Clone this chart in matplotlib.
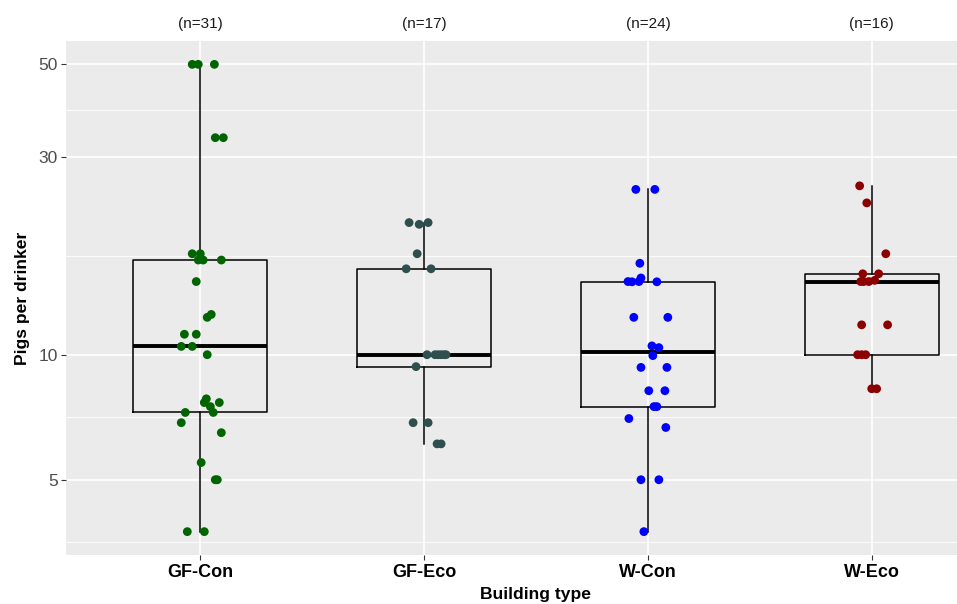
import numpy as np
import matplotlib
matplotlib.use("Agg")
import matplotlib.pyplot as plt
from matplotlib import cbook
import matplotlib.transforms as mtransforms
from matplotlib.ticker import FixedLocator, NullFormatter

plt.rcParams['font.family'] = ['Liberation Sans', 'DejaVu Sans']

categories = ["GF-Con", "GF-Eco", "W-Con", "W-Eco"]
point_colors = ["#006400", "#2F4F4F", "#0000FF", "#8B0000"]

gf_con = [50, 50, 50, 33.3, 33.3, 17.5, 17.5, 16.9, 16.9, 16.9, 15.0, 12.3, 12.5,
          11.2, 11.2, 10.47, 10.47, 10.0, 7.83, 7.67, 7.67, 7.5, 7.26, 7.26, 6.86,
          6.49, 5.5, 5.0, 5.0, 3.75, 3.75]
gf_con_jitter = [-0.036, -0.009, 0.063, 0.067, 0.103, -0.036, 0.0, -0.009, 0.013, 0.094,
                 -0.018, 0.031, 0.049, -0.071, -0.018, -0.085, -0.036, 0.031, 0.027,
                 0.018, 0.085, 0.045, 0.058, -0.067, -0.085, 0.094, 0.004, 0.067,
                 0.076, -0.058, 0.018]

gf_eco = [20.8, 20.6, 20.8, 17.5, 16.1, 16.1, 10, 10, 10, 10, 10, 10, 9.36, 6.86, 6.86,
          6.1, 6.1]
gf_eco_jitter = [-0.067, -0.022, 0.018, -0.031, -0.080, 0.031, 0.013, 0.049, 0.063,
                 0.076, 0.089, 0.098, -0.036, -0.049, 0.018, 0.058, 0.076]

w_con = [25, 25, 16.6, 15.0, 14.98, 15.0, 15.3, 14.98, 12.3, 12.3, 10.5, 10.4, 9.95,
         9.32, 9.32, 8.19, 8.19, 7.5, 7.5, 7.02, 6.68, 5, 5, 3.75]
w_con_jitter = [-0.054, 0.031, -0.036, -0.089, -0.071, -0.040, -0.031, 0.040, -0.063,
                0.089, 0.018, 0.049, 0.022, -0.031, 0.085, 0.004, 0.076, 0.040, 0.027,
                -0.085, 0.080, -0.031, 0.049, -0.018]

w_eco = [25.5, 23.2, 17.5, 15.66, 15.66, 15.0, 15.0, 15.1, 15.0, 11.8, 11.8, 10, 10, 10,
         8.28, 8.28]
w_eco_jitter = [-0.054, -0.022, 0.063, -0.040, 0.031, -0.049, -0.036, 0.013, -0.013,
                -0.045, 0.071, -0.063, -0.045, -0.027, 0.0, 0.022]

y_breaks = [5, 10, 30, 50]
y_break_labels = ["5", "10", "30", "50"]

groups = [gf_con, gf_eco, w_con, w_eco]
jitters = [gf_con_jitter, gf_eco_jitter, w_con_jitter, w_eco_jitter]
positions = np.arange(1, len(categories) + 1)

fig = plt.figure(figsize=(9.57, 6.04), dpi=100)
ax = fig.add_axes([66 / 957, 49 / 604, 940 / 957, 514 / 604])
ax.set_facecolor("#EBEBEB")
for s in ax.spines.values():
    s.set_visible(False)

ax.set_yscale("log")

# box statistics on log10 scale (as ggplot does with scale_y_log10)
stats = []
for g in groups:
    st = cbook.boxplot_stats(np.log10(g), whis=1.5)[0]
    for k in ("med", "q1", "q3", "whislo", "whishi", "mean"):
        st[k] = 10 ** st[k]
    st["fliers"] = 10 ** np.asarray(st["fliers"])
    stats.append(st)

ax.bxp(stats, positions=positions, widths=0.6, showcaps=False, showfliers=False,
       boxprops=dict(color="black", linewidth=1.1),
       whiskerprops=dict(color="black", linewidth=1.1),
       medianprops=dict(color="black", linewidth=2.8, solid_capstyle="butt"),
       manage_ticks=False, zorder=3)

for i, (g, j, c) in enumerate(zip(groups, jitters, point_colors)):
    ax.scatter(positions[i] + np.asarray(j), g, s=40, color=c, edgecolors="none",
               zorder=4)

# limits with ggplot-like expansion
all_vals = np.concatenate([np.asarray(g, float) for g in groups])
lo, hi = np.log10(all_vals.min()), np.log10(all_vals.max())
pad = 0.05 * (hi - lo)
ax.set_ylim(10 ** (lo - pad), 10 ** (hi + pad))
ax.set_xlim(0.4, len(categories) + 0.6)

# ticks and grid
lb = np.log10(y_breaks)
minor = list((lb[:-1] + lb[1:]) / 2)
minor = [lb[0] - (lb[1] - lb[0]) / 2] + minor
ax.yaxis.set_major_locator(FixedLocator(y_breaks))
ax.yaxis.set_minor_locator(FixedLocator(10 ** np.array(minor)))
ax.yaxis.set_minor_formatter(NullFormatter())
ax.set_yticklabels(y_break_labels)
ax.set_xticks(positions)
ax.set_xticklabels(categories, fontweight="bold", fontsize=13, color="black")

ax.grid(True, which="major", color="white", linewidth=1.2, zorder=0)
ax.grid(True, which="minor", axis="y", color="white", linewidth=0.6, zorder=0)
ax.set_axisbelow(True)

ax.tick_params(axis="both", which="major", length=3.5, width=0.8, color="#333333")
ax.tick_params(axis="y", which="major", labelsize=12.5, labelcolor="#4D4D4D", pad=2.5)
ax.tick_params(axis="x", which="major", pad=3)
ax.tick_params(axis="y", which="minor", length=0)

ax.set_xlabel("Building type", fontweight="bold", fontsize=12.6, labelpad=4.5)
ax.set_ylabel("Pigs per drinker", fontweight="bold", fontsize=12.6, labelpad=6)

trans = mtransforms.blended_transform_factory(ax.transData, ax.transAxes)
for i, g in enumerate(groups):
    ax.text(positions[i], 1.033, f"(n={len(g)})", transform=trans, ha="center",
            va="center", fontsize=11, color="#1A1A1A")

fig.savefig("out.png", dpi=100, facecolor="white")
